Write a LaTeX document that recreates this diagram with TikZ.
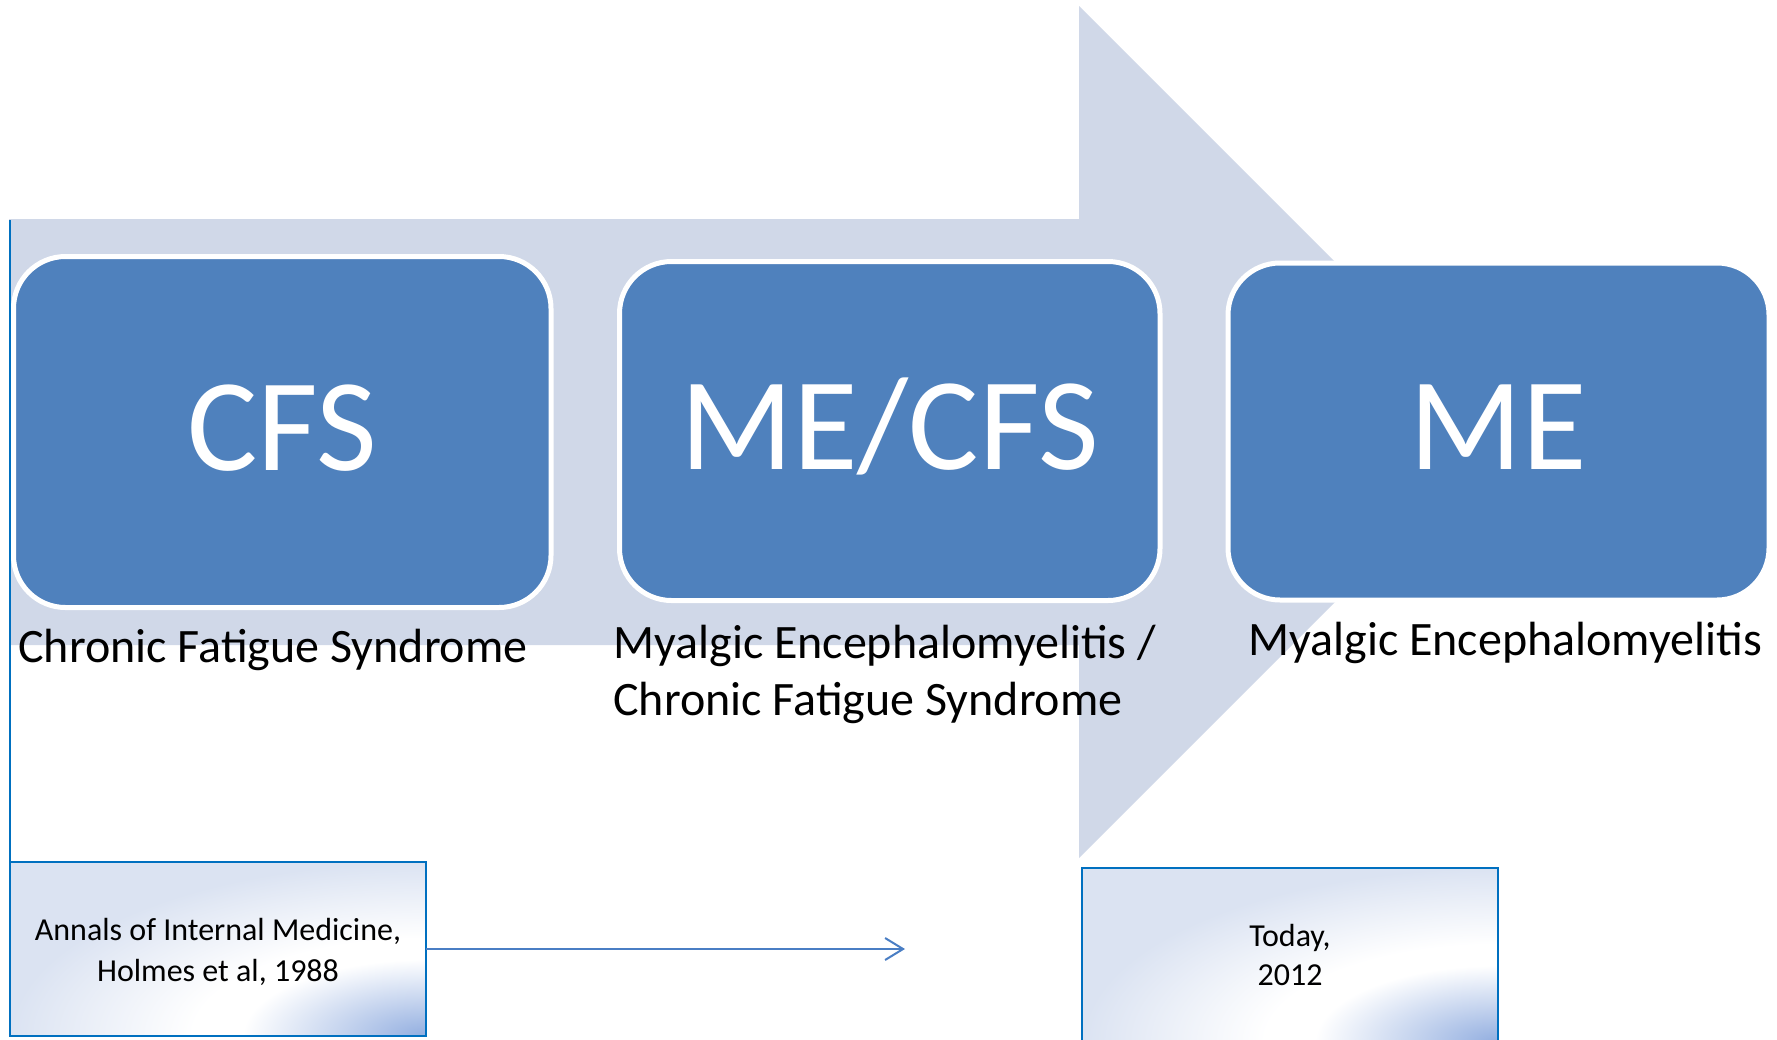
\documentclass[tikz,border=0pt]{standalone}
\usepackage{fontspec}
\setmainfont{Carlito}
\usetikzlibrary{arrows.meta}
\definecolor{arrowfill}{HTML}{D0D8E8}
\definecolor{boxblue}{HTML}{4F81BD}
\definecolor{edgeblue}{HTML}{0070C0}
\definecolor{connblue}{HTML}{4A7EC4}
\definecolor{glowA}{RGB}{146,174,224}
\definecolor{glowB}{RGB}{196,211,238}
\definecolor{glowC}{RGB}{219,227,242}
\pgfdeclareradialshading{cornerglow}{\pgfpoint{0bp}{0bp}}{color(0bp)=(glowA); color(5bp)=(glowB); color(11bp)=(white); color(14bp)=(white); color(25bp)=(glowC); color(50bp)=(glowC)}
\renewcommand{\arraystretch}{1.03}
\begin{document}
\begin{tikzpicture}[x=0.5pt,y=-0.5pt,
  bigbox/.style={draw=white, line width=2.5pt, fill=boxblue, rounded corners=26pt,
    text=white, font=\fontsize{66}{70}\selectfont, text height=38pt, text depth=0pt,
    inner sep=0pt, outer sep=0pt},
  caption/.style={anchor=base west, inner sep=0pt, font=\fontsize{24}{29}\selectfont},
  notebox/.style={draw=edgeblue, line width=1pt, fill=glowC, minimum width=208pt,
    minimum height=87pt, inner sep=0pt, outer sep=0pt, align=center,
    font=\fontsize{16}{19.5}\selectfont,
    path picture={\shade[shading=cornerglow] (path picture bounding box.south east)
      ellipse [x radius=208pt, y radius=87pt];}},
  conn/.style={draw=connblue, line width=1pt, -{Straight Barb[length=9pt,width=11pt]}},
  guide/.style={draw=edgeblue, line width=1pt}
]
\clip (0,0) rectangle (1777,1039);
\fill[white] (0,0) rectangle (1777,1039);
% big background arrow
\fill[arrowfill] (9,219) -- (1079,219) -- (1079,6) -- (1505,432) -- (1079,858)
  -- (1079,645) -- (9,645) -- cycle;
% main boxes
\node[bigbox, minimum width=268.75pt, minimum height=175.5pt] (cfs) at (282.25,432) {CFS};
\node[bigbox, minimum width=270.25pt, minimum height=169.5pt] (mecfs) at (889.75,431) {ME/CFS};
\node[bigbox, minimum width=270.5pt, minimum height=168.5pt] (me) at (1498.5,431.5) {ME};
% captions
\node[caption] (capa) at (18,662) {Chronic Fatigue Syndrome};
\node[caption] (capb1) at (613,658) {Myalgic Encephalomyelitis /};
\node[caption] (capb2) at (613,715) {Chronic Fatigue Syndrome};
\node[caption] (capc) at (1248,655) {Myalgic Encephalomyelitis};
% note boxes
\node[notebox] (annals) at (218,949) {\raisebox{-2pt}[\height][\depth]{\begin{tabular}{@{}c@{}}Annals of Internal Medicine,\\Holmes et al, 1988\end{tabular}}};
\node[notebox] (today) at (1290,955) {Today,\\2012};
% connectors
\coordinate (vtop) at (10,220);
\draw[guide] (vtop) -- (annals.north west);
\coordinate (arrowend) at (905,949);
\draw[conn] (annals.east) -- (arrowend);
\end{tikzpicture}
\end{document}
